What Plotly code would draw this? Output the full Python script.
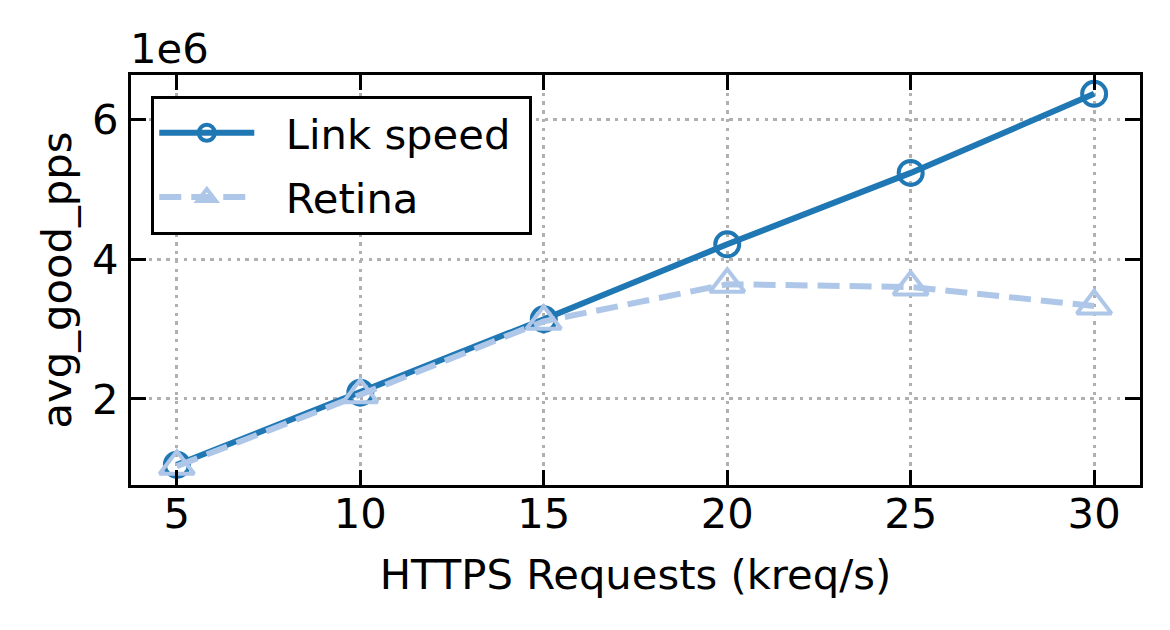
import plotly.graph_objects as go

# ---- data ----
requests_kreq = [5, 10, 15, 20, 25, 30]
link_speed_pps = [1.06e6, 2.09e6, 3.14e6, 4.21e6, 5.23e6, 6.36e6]
retina_pps = [1.04e6, 2.06e6, 3.11e6, 3.64e6, 3.60e6, 3.33e6]
x_ticks = [5, 10, 15, 20, 25, 30]
y_tick_vals = [2e6, 4e6, 6e6]
y_tick_text = ["2", "4", "6"]
series_names = ["Link speed", "Retina"]

FONT = "DejaVu Sans"
FS = 41.7
NB = "\u00a0\u00a0"

fig = go.Figure()
fig.add_trace(go.Scatter(
    x=requests_kreq, y=link_speed_pps, name=NB + series_names[0] + "\u00a0",
    mode="lines+markers", legendgroup="a",
    line=dict(color="#1f77b4", width=6),
    marker=dict(symbol="circle-open", size=24, color="#1f77b4",
                line=dict(width=4, color="#1f77b4")),
))
fig.add_trace(go.Scatter(
    x=requests_kreq, y=retina_pps, name=NB + series_names[1],
    mode="lines+markers", legendgroup="b",
    line=dict(color="#aec7e8", width=6, dash="22px,10px"),
    marker=dict(symbol="triangle-up-open", size=30, color="#aec7e8",
                line=dict(width=4, color="#aec7e8")),
))

axis_common = dict(
    showline=True, linecolor="black", linewidth=3.3, mirror="allticks",
    ticks="inside", ticklen=14.6, tickwidth=3.3, tickcolor="black",
    showgrid=True, gridcolor="#b0b0b0", gridwidth=3.3, griddash="3.3px,5.5px",
    zeroline=False,
    tickfont=dict(family=FONT, size=FS, color="black"),
)

fig.update_xaxes(
    range=[3.75, 31.25], tickvals=x_ticks, ticktext=[str(v) for v in x_ticks],
    ticklabelstandoff=-10,
    title=dict(text="HTTPS Requests (kreq/s)", font=dict(family=FONT, size=FS, color="black"), standoff=23),
    **axis_common,
)
fig.update_yaxes(
    range=[0.771e6, 6.629e6], tickvals=y_tick_vals, ticktext=y_tick_text,
    ticklabelstandoff=1,
    title=dict(text="avg_good_pps", font=dict(family=FONT, size=FS, color="black"), standoff=8),
    **axis_common,
)

fig.add_annotation(
    text="1e6", xref="paper", yref="paper", x=0, y=1, xanchor="left", yanchor="bottom",
    showarrow=False, font=dict(family=FONT, size=FS, color="black"), yshift=0, xshift=-3,
)

fig.update_layout(
    width=1170, height=630,
    margin=dict(l=131, r=30, t=75, b=145),
    paper_bgcolor="white", plot_bgcolor="white",
    font=dict(family=FONT, size=FS, color="black"),
    showlegend=True,
    legend=dict(
        x=0.0198, y=0.949, xanchor="left", yanchor="top",
        bordercolor="black", borderwidth=3.3, bgcolor="white",
        font=dict(family=FONT, size=FS, color="black"),
        itemwidth=95, traceorder="grouped", tracegroupgap=7,
    ),
)

fig.write_html("out.html")
